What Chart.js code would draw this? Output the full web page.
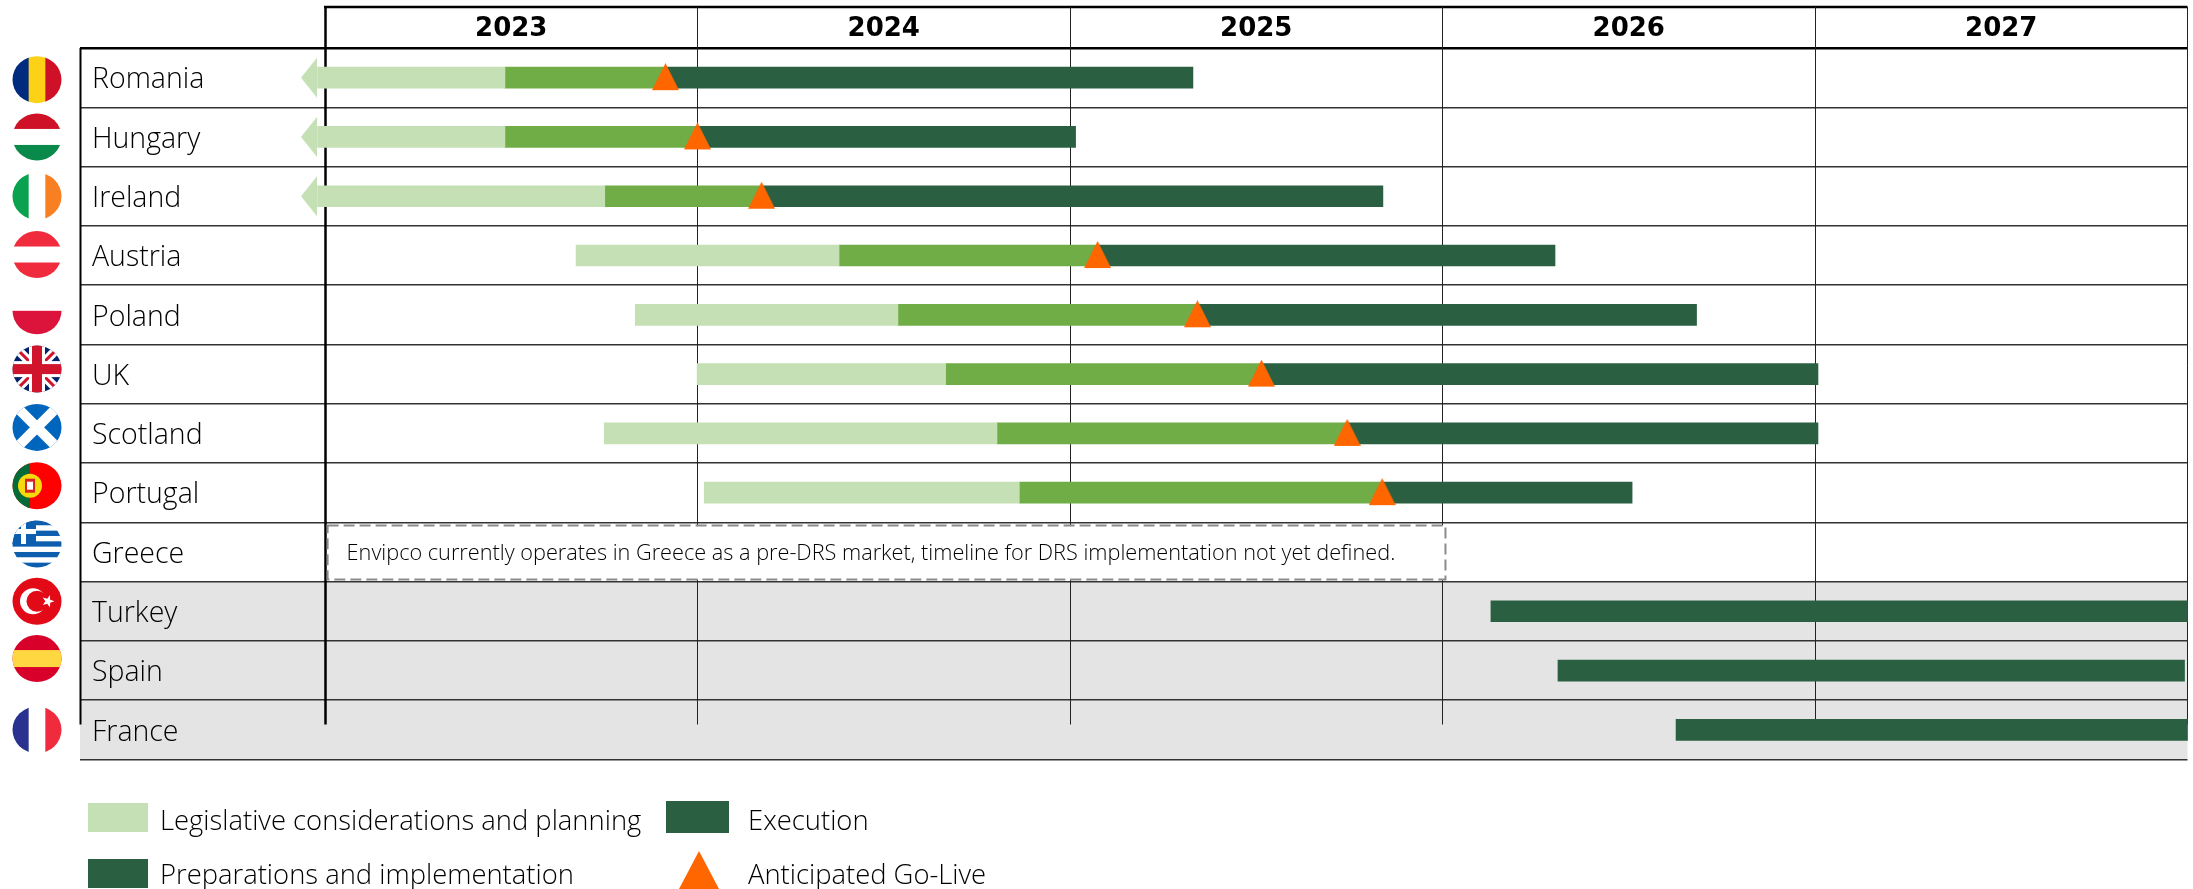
<!DOCTYPE html>
<html>
<head>
<meta charset="utf-8">
<style>
  html, body { margin: 0; padding: 0; background: #fff; }
  canvas { display: block; }
</style>
<script src="https://cdn.jsdelivr.net/npm/chart.js@4"></script>
</head>
<body>
<canvas id="chart" width="2193" height="889"></canvas>
<script>
const countries = ['Romania', 'Hungary', 'Ireland', 'Austria', 'Poland', 'UK', 'Scotland', 'Portugal', 'Greece', 'Turkey', 'Spain', 'France'];
const yearLabels = ['2023', '2024', '2025', '2026', '2027'];

// all values are decimal years
const planning = [
  [2022.98, 2023.483], [2022.98, 2023.483], [2022.98, 2023.751], [2023.674, 2024.380],
  [2023.833, 2024.538], [2023.999, 2024.666], [2023.750, 2024.804], [2024.018, 2024.864],
  null, null, null, null
];
const preparation = [
  [2023.483, 2023.914], [2023.483, 2024.000], [2023.751, 2024.172], [2024.380, 2025.074],
  [2024.538, 2025.342], [2024.666, 2025.514], [2024.804, 2025.744], [2024.864, 2025.838],
  null, null, null, null
];
const execution = [
  [2023.914, 2025.330], [2024.000, 2025.015], [2024.172, 2025.840], [2025.074, 2026.302],
  [2025.342, 2026.682], [2025.514, 2027.008], [2025.744, 2027.008], [2025.838, 2026.509],
  null, [2026.130, 2028.000], [2026.310, 2027.992], [2026.627, 2028.000]
];
const goLive = [2023.914, 2024.000, 2024.172, 2025.074, 2025.342, 2025.514, 2025.744, 2025.838, null, null, null, null];
const startedEarlier = [2022.957, 2022.957, 2022.957, null, null, null, null, null, null, null, null, null];

const legendLabels = ['Legislative considerations and planning', 'Preparations and implementation', 'Execution', 'Anticipated Go-Live'];
const greeceNote = 'Envipco currently operates in Greece as a pre-DRS market, timeline for DRS implementation not yet defined.';

const LIGHT = '#C5E0B4', MID = '#70AD47', DARK = '#2A6041', ORANGE = '#FF6600', GREY = '#E4E4E4';
const LABEL_FONT = '300 27.4px "Open Sans"';

// padBottom leaves empty rows under the shape, the image is centred on its point
function triangleImage(w, h, color, pointLeft, padBottom = 0) {
  const c = document.createElement('canvas');
  c.width = w; c.height = h + padBottom;
  const g = c.getContext('2d');
  g.fillStyle = color;
  g.beginPath();
  if (pointLeft) {
    g.moveTo(0, h / 2); g.lineTo(w, 0); g.lineTo(w, h);
  } else {
    g.moveTo(w / 2, 0); g.lineTo(w, h); g.lineTo(0, h);
  }
  g.closePath();
  g.fill();
  return c;
}

function toPoints(values) {
  return values.map((v, i) => v === null ? null : { x: v, y: countries[i] }).filter(p => p);
}

function stripesH(g, colors) {
  const h = 48 / colors.length;
  colors.forEach((c, i) => { g.fillStyle = c; g.fillRect(-26, -24 + i * h, 52, h + 0.5); });
}
function stripesV(g, colors) {
  const w = 50 / colors.length;
  colors.forEach((c, i) => { g.fillStyle = c; g.fillRect(-25 + i * w, -25, w + 0.5, 50); });
}
function cross(g, color, size, diagonal) {
  g.save();
  if (diagonal) g.rotate(Math.PI / 4);
  g.fillStyle = color;
  g.fillRect(-40, -size / 2, 80, size);
  g.fillRect(-size / 2, -40, size, 80);
  g.restore();
}

const flags = {
  Romania: g => stripesV(g, ['#002B7F', '#FCD116', '#CE1126']),
  Hungary: g => stripesH(g, ['#CE1126', '#FFFFFF', '#0A8A4A']),
  Ireland: g => stripesV(g, ['#0AA14F', '#FFFFFF', '#F97F23']),
  Austria: g => stripesH(g, ['#EF2B3D', '#FFFFFF', '#EF2B3D']),
  Poland: g => stripesH(g, ['#FFFFFF', '#DC143C']),
  UK: g => {
    g.fillStyle = '#012169';
    g.fillRect(-26, -26, 52, 52);
    cross(g, '#FFFFFF', 9, true);
    cross(g, '#CF142B', 3, true);
    cross(g, '#FFFFFF', 16, false);
    cross(g, '#CF142B', 10, false);
  },
  Scotland: g => {
    g.fillStyle = '#0065BD'; g.fillRect(-26, -26, 52, 52);
    cross(g, '#FFFFFF', 10, true);
  },
  Portugal: g => {
    g.fillStyle = '#FF0000'; g.fillRect(-26, -26, 52, 52);
    g.fillStyle = '#046A38'; g.fillRect(-26, -26, 19, 52);
    g.fillStyle = '#F5D90A'; g.beginPath(); g.arc(-7, 0, 12, 0, Math.PI * 2); g.fill();
    g.fillStyle = '#D8231F'; g.fillRect(-12, -7, 10, 14);
    g.fillStyle = '#FFFFFF'; g.fillRect(-10, -4, 6, 8);
  },
  Greece: g => {
    stripesH(g, ['#0D5EAF', '#FFFFFF', '#0D5EAF', '#FFFFFF', '#0D5EAF', '#FFFFFF', '#0D5EAF', '#FFFFFF', '#0D5EAF']);
    g.fillStyle = '#0D5EAF'; g.fillRect(-26, -26, 25, 26);
    g.fillStyle = '#FFFFFF'; g.fillRect(-26, -15, 25, 5); g.fillRect(-16, -26, 5, 26);
  },
  Turkey: g => {
    g.fillStyle = '#E30A17'; g.fillRect(-26, -26, 52, 52);
    g.fillStyle = '#FFFFFF'; g.beginPath(); g.arc(-4, 0, 13, 0, Math.PI * 2); g.fill();
    g.fillStyle = '#E30A17'; g.beginPath(); g.arc(0, 0, 10.5, 0, Math.PI * 2); g.fill();
    g.fillStyle = '#FFFFFF'; g.beginPath();
    for (let i = 0; i < 10; i++) {
      const r = i % 2 ? 2.6 : 6.5, a = i * Math.PI / 5;
      g.lineTo(11 + Math.cos(a) * r, Math.sin(a) * r);
    }
    g.closePath(); g.fill();
  },
  Spain: g => {
    g.fillStyle = '#D8002B'; g.fillRect(-26, -26, 52, 52);
    g.fillStyle = '#FFD740'; g.fillRect(-26, -8.5, 52, 17);
  },
  France: g => stripesV(g, ['#29328F', '#FFFFFF', '#EF2B3D'])
};
// where each round flag sits against its row, they drift up the further down the list
const flagDrift = [2, 0, 0, -1, -4, -5, -6, -7, -8, -10, -12, 0];

const gridFrame = {
  id: 'gridFrame',
  beforeDraw(chart) {
    const { ctx, scales: { x, y } } = chart;
    // grey block for the last three rows
    const top = y.getPixelForValue(9) - (y.getPixelForValue(1) - y.getPixelForValue(0)) / 2;
    ctx.save();
    ctx.fillStyle = GREY;
    ctx.fillRect(80, top, x.right - 80, y.bottom - top);
    ctx.restore();
  },
  beforeDatasetsDraw(chart) {
    const { ctx, chartArea, scales: { x, y } } = chart;
    const rowH = y.getPixelForValue(1) - y.getPixelForValue(0);
    const lineEnd = y.getPixelForValue(11) - rowH * 0.09;
    ctx.save();
    ctx.strokeStyle = '#000';
    ctx.lineWidth = 2.5;
    ctx.beginPath();
    ctx.moveTo(x.left - 1, 7); ctx.lineTo(x.right, 7);
    ctx.stroke();
    ctx.lineWidth = 2;
    ctx.beginPath();
    ctx.moveTo(80.5, chartArea.top); ctx.lineTo(80.5, lineEnd);
    ctx.stroke();
    x.ticks.filter(t => Number.isInteger(t.value)).forEach(t => {
      const px = Math.floor(x.getPixelForValue(t.value)) + 0.5;
      ctx.lineWidth = t.value === 2023 ? 2.5 : 1;
      ctx.strokeStyle = t.value === 2023 ? '#000' : '#222';
      ctx.beginPath();
      ctx.moveTo(px, 7); ctx.lineTo(px, lineEnd);
      ctx.stroke();
    });

    // Greece has no timeline yet, just the note in a dashed box
    const noteY = y.getPixelForValue(8);
    const left = x.getPixelForValue(2023.007), right = x.getPixelForValue(2026.008);
    ctx.fillStyle = '#fff';
    ctx.fillRect(left, noteY - 26.5, right - left, 54);
    ctx.strokeStyle = '#8C8C8C';
    ctx.lineWidth = 2;
    ctx.setLineDash([11, 5]);
    ctx.strokeRect(left, noteY - 26.5, right - left, 54);
    ctx.setLineDash([]);
    ctx.fillStyle = '#000';
    ctx.font = '300 21.7px "Open Sans"';
    ctx.textBaseline = 'middle';
    ctx.textAlign = 'left';
    ctx.fillText(greeceNote, left + 19, noteY + 2);
    ctx.restore();
  },
  afterDraw(chart) {
    const { ctx, scales: { y } } = chart;
    ctx.save();
    // flags
    countries.forEach((name, i) => {
      ctx.save();
      ctx.translate(37, y.getPixelForValue(i) + flagDrift[i]);
      ctx.beginPath();
      ctx.ellipse(0, 0, 24.5, 23.5, 0, 0, Math.PI * 2);
      ctx.clip();
      flags[name](ctx);
      ctx.restore();
    });
    // legend, written by hand because the swatches are not in a plain grid
    ctx.font = LABEL_FONT;
    ctx.textBaseline = 'middle';
    ctx.textAlign = 'left';
    ctx.fillStyle = LIGHT; ctx.fillRect(88, 803, 60, 29);
    ctx.fillStyle = DARK; ctx.fillRect(88, 859, 60, 29);
    ctx.fillStyle = DARK; ctx.fillRect(666, 801, 63, 32);
    ctx.fillStyle = ORANGE;
    ctx.beginPath(); ctx.moveTo(699, 851); ctx.lineTo(719, 889); ctx.lineTo(679, 889); ctx.closePath(); ctx.fill();
    ctx.fillStyle = '#000';
    ctx.fillText(legendLabels[0], 160, 822);
    ctx.fillText(legendLabels[1], 160, 876);
    ctx.fillText(legendLabels[2], 748, 822);
    ctx.fillText(legendLabels[3], 748, 876);
    ctx.restore();
  }
};

const barDefaults = { barThickness: 21, grouped: false, borderWidth: 0, clip: false, xAxisID: 'x', yAxisID: 'y' };

new Chart(document.getElementById('chart'), {
  type: 'bar',
  data: {
    labels: countries,
    datasets: [
      { ...barDefaults, label: 'Execution', data: execution, backgroundColor: DARK, order: 3 },
      { ...barDefaults, label: 'Preparations and implementation', data: preparation, backgroundColor: MID, order: 2 },
      { ...barDefaults, label: 'Legislative considerations and planning', data: planning, backgroundColor: LIGHT, order: 1 },
      {
        type: 'scatter', label: 'Started earlier', data: toPoints(startedEarlier), clip: false, xAxisID: 'x', yAxisID: 'y', order: 1,
        pointStyle: triangleImage(16, 40, LIGHT, true), pointRadius: 40, pointHoverRadius: 40
      },
      {
        type: 'scatter', label: 'Anticipated Go-Live', data: toPoints(goLive), clip: false, xAxisID: 'x', yAxisID: 'y', order: 0,
        pointStyle: triangleImage(27, 27, ORANGE, false, 2), pointRadius: 14, pointHoverRadius: 14
      }
    ]
  },
  options: {
    indexAxis: 'y',
    responsive: false,
    animation: false,
    devicePixelRatio: 1,
    layout: { autoPadding: false, padding: { left: 92, right: 5.5, top: 7, bottom: 129.5 } },
    plugins: { legend: { display: false }, tooltip: { enabled: false }, title: { display: false } },
    scales: {
      x: {
        type: 'linear',
        position: 'top',
        min: 2023,
        max: 2028,
        afterFit: s => { s.height = 41; },
        grid: { display: false, drawTicks: false },
        border: { display: false },
        ticks: {
          stepSize: 0.5,
          autoSkip: false,
          maxRotation: 0,
          padding: 3,
          color: '#000',
          font: { family: 'DejaVu Sans', weight: 'bold', size: 26 },
          callback: v => Number.isInteger(v) ? '' : yearLabels[Math.floor(v) - 2023]
        }
      },
      y: {
        type: 'category',
        offset: true,
        afterFit: s => { s.width = 233; },
        border: { display: false },
        grid: {
          offset: true,
          tickLength: 245,
          color: ctx => (ctx.index === 0 || ctx.index === countries.length) ? '#000' : '#333',
          lineWidth: ctx => (ctx.index === 0 || ctx.index === countries.length) ? 2.5 : 1.5
        },
        ticks: {
          autoSkip: false,
          crossAlign: 'far',
          color: '#000',
          // empty first line with a tiny line height nudges the names 2.5px down
          font: { family: 'Open Sans', weight: '300', size: 28.5, lineHeight: 0.18 },
          callback: v => ['', countries[v]]
        }
      }
    }
  },
  plugins: [gridFrame]
});
</script>
</body>
</html>
